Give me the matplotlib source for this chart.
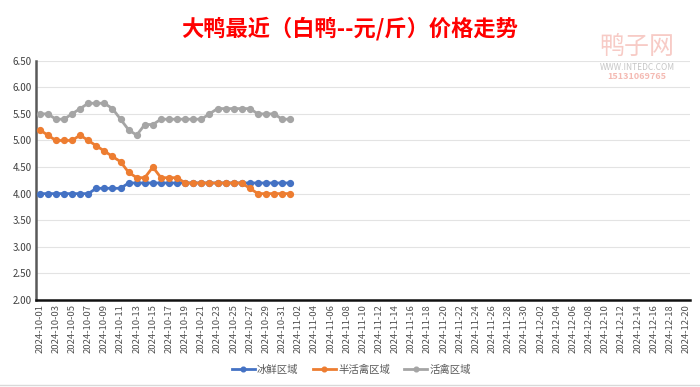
import numpy as np
import pandas as pd
import matplotlib
matplotlib.use("Agg")
import matplotlib.pyplot as plt

plt.rcParams['font.family'] = ['Noto Sans CJK SC', 'DejaVu Sans']

# ---------- data ----------
dates = pd.date_range("2024-10-01", "2024-12-20", freq="D").strftime("%Y-%m-%d").tolist()

ice_fresh = [4.0, 4.0, 4.0, 4.0, 4.0, 4.0, 4.0, 4.1, 4.1, 4.1, 4.1, 4.2, 4.2, 4.2, 4.2, 4.2,
             4.2, 4.2, 4.2, 4.2, 4.2, 4.2, 4.2, 4.2, 4.2, 4.2, 4.2, 4.2, 4.2, 4.2, 4.2, 4.2]
half_live = [5.2, 5.1, 5.0, 5.0, 5.0, 5.1, 5.0, 4.9, 4.8, 4.7, 4.6, 4.4, 4.3, 4.3, 4.5, 4.3,
             4.3, 4.3, 4.2, 4.2, 4.2, 4.2, 4.2, 4.2, 4.2, 4.2, 4.1, 4.0, 4.0, 4.0, 4.0, 4.0]
live = [5.5, 5.5, 5.4, 5.4, 5.5, 5.6, 5.7, 5.7, 5.7, 5.6, 5.4, 5.2, 5.1, 5.3, 5.3, 5.4,
        5.4, 5.4, 5.4, 5.4, 5.4, 5.5, 5.6, 5.6, 5.6, 5.6, 5.6, 5.5, 5.5, 5.5, 5.4, 5.4]

series = [("冰鲜区域", ice_fresh, "#4472C4"),
          ("半活禽区域", half_live, "#ED7D31"),
          ("活禽区域", live, "#A5A5A5")]

yticks = np.arange(2.0, 6.51, 0.5)

# ---------- figure ----------
fig = plt.figure(figsize=(7, 3.87), dpi=100)
ax = fig.add_axes([0.051, 0.225, 0.935, 0.618])

x_all = np.arange(len(dates))
for name, vals, col in series:
    ax.plot(x_all[:len(vals)], vals, '-o', color=col, lw=2, ms=4.2, label=name, zorder=3)

ax.set_xlim(-0.5, len(dates) - 0.5)
ax.set_ylim(2.0, 6.5)
ax.set_yticks(yticks)
ax.set_yticklabels([f"{v:.2f}" for v in yticks], fontsize=7, color="#404040")
ax.set_xticks(x_all[::2])
ax.set_xticklabels(dates[::2], rotation=90, fontsize=6.8, color="#505050")
ax.tick_params(length=0, pad=3)
ax.grid(axis='y', color="#e3e3e3", lw=0.8, zorder=0)

for s in ['top', 'right']:
    ax.spines[s].set_visible(False)
ax.spines['left'].set_color("#595959")
ax.spines['left'].set_linewidth(1.8)
ax.spines['bottom'].set_color("#111111")
ax.spines['bottom'].set_linewidth(1.8)

fig.text(0.5, 0.927, "大鸭最近（白鸭--元/斤）价格走势", ha='center', va='center',
         fontsize=16, fontweight='bold', color="#FF0000")

# watermark
fig.text(0.91, 0.88, "鸭子网", ha='center', va='center', fontsize=18,
         color="#f2a9a0", alpha=0.6)
fig.text(0.91, 0.825, "WWW.INTEDC.COM", ha='center', va='center', fontsize=6,
         color="#b8b8b8", alpha=0.8)
fig.text(0.91, 0.803, "15131069765", ha='center', va='center', fontsize=6.5,
         color="#f2a9a0", alpha=0.8, fontweight='bold')

leg = fig.legend(loc='center', bbox_to_anchor=(0.502, 0.045), ncol=3, frameon=False,
                 fontsize=7.5, handlelength=2.2, columnspacing=1.4, handletextpad=0.2,
                 markerscale=0.8)
for t in leg.get_texts():
    t.set_color("#595959")

fig.add_artist(plt.Line2D([0, 1], [0.006, 0.006], color="#d9d9d9", lw=1))

fig.savefig("out.png", dpi=100)
